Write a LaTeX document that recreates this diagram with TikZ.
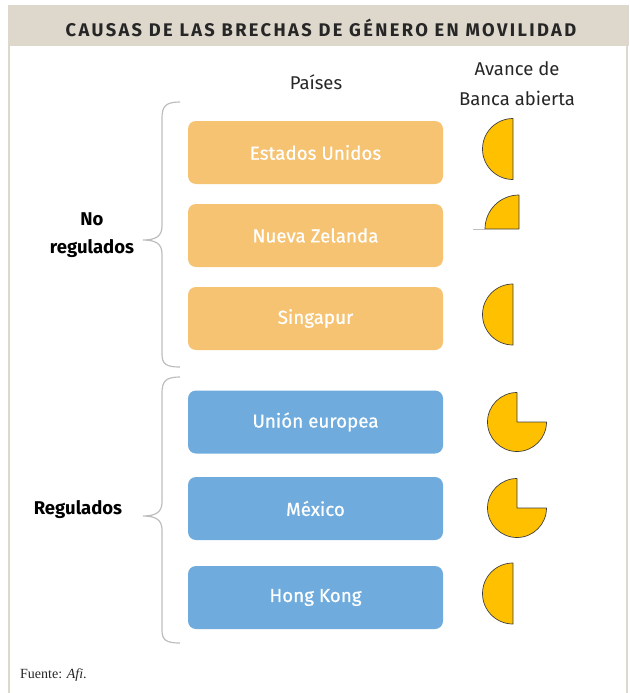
\documentclass[tikz,border=0pt]{standalone}
\usepackage{fontspec}
\setmainfont{Liberation Serif}
\newfontfamily\uisans{Fira Sans}
\newfontfamily\boxsans[FakeBold=0.6]{Fira Sans}
\newfontfamily\titlesans[LetterSpace=13]{Fira Sans}
\definecolor{beige}{HTML}{DDD8CB}
\definecolor{orangebox}{HTML}{F5C372}
\definecolor{bluebox}{HTML}{6FACDD}
\definecolor{pieyellow}{HTML}{FFC000}
\definecolor{bracegray}{HTML}{BDBDBD}
\definecolor{textdark}{HTML}{262626}
\tikzset{
  cbox/.style={rounded corners=8pt, minimum width=255pt, minimum height=63pt, inner sep=0pt,
    text=white, font=\boxsans\fontsize{18.8}{22}\selectfont},
  obox/.style={cbox, fill=orangebox},
  bbox/.style={cbox, fill=bluebox},
  pie/.style={fill=pieyellow, draw=black!75, line width=0.7pt, line join=round},
  bracepath/.style={draw=bracegray, line width=1.2pt},
  lbl/.style={font=\uisans\fontsize{18.5}{22}\selectfont, text=textdark, inner sep=0pt},
  grp/.style={font=\uisans\bfseries\fontsize{18.5}{28}\selectfont, text=black, align=center, inner sep=0pt}
}
\begin{document}
\begin{tikzpicture}[x=1pt,y=-1pt]
\useasboundingbox (0,0) rectangle (629,693);
% frame
\fill[beige] (8,5) rectangle (629,46);
\draw[beige, line width=1.5pt] (9,46) -- (9,693);
\draw[beige, line width=1.2pt] (627,46) -- (627,693);
\node[font=\titlesans\bfseries\fontsize{18.3}{20}\selectfont, text=textdark, inner sep=0pt] (title) at (321,27.5) {CAUSAS DE LAS BRECHAS DE GÉNERO EN MOVILIDAD};
% headers
\node[lbl] (paises) at (316,82) {Países};
\node[lbl] (avance) at (517,69) {Avance de};
\node[lbl] (banca) at (517,98) {Banca abierta};
% boxes
\node[obox] (us) at (315.5,152.5) {Estados Unidos};
\node[obox] (nz) at (315.5,235.5) {Nueva Zelanda};
\node[obox] (sg) at (315.5,318.5) {Singapur};
\node[bbox] (ue) at (315.5,422) {Unión europea};
\node[bbox] (mx) at (315.5,508.5) {México};
\node[bbox] (hk) at (315.5,597.5) {Hong Kong};
% group labels
\node[grp] (noreg) at (92,235) {No\\regulados};
\node[grp] (reg) at (78,510) {Regulados};
% braces
\draw[bracepath] (180,102) .. controls (166,102) and (162,106) .. (162,118) -- (162,226)
  .. controls (162,236) and (156,240) .. (143,240)
  .. controls (156,240) and (162,244) .. (162,254) -- (162,354)
  .. controls (162,364) and (166,367) .. (180,367);
\draw[bracepath] (180,377) .. controls (166,377) and (162,381) .. (162,393) -- (162,502)
  .. controls (162,512) and (156,516) .. (143,516)
  .. controls (156,516) and (162,520) .. (162,530) -- (162,630)
  .. controls (162,640) and (166,643) .. (180,643);
% pies (y axis points down: top = -90, left = -180, bottom = -270, right = -360)
\coordinate (pus) at (513,149);
\coordinate (pnz) at (519,229);
\coordinate (psg) at (513,314.5);
\coordinate (pue) at (517,422);
\coordinate (pmx) at (517,508);
\coordinate (phk) at (513,593.5);
\draw[pie] (pus) ++(0,-30.5) arc[start angle=-90, end angle=-270, radius=30.5] -- cycle;
\draw[black!25, line width=0.8pt] (473,229) -- (485,229);
\draw[pie] (pnz) ++(0,-34) arc[start angle=-90, end angle=-180, radius=34] -- (pnz) -- cycle;
\draw[pie] (psg) ++(0,-30.5) arc[start angle=-90, end angle=-270, radius=30.5] -- cycle;
\draw[pie] (pue) -- ++(0,-29.5) arc[start angle=-90, end angle=-360, radius=29.5] -- cycle;
\draw[pie] (pmx) -- ++(0,-29.5) arc[start angle=-90, end angle=-360, radius=29.5] -- cycle;
\draw[pie] (phk) ++(0,-30.5) arc[start angle=-90, end angle=-270, radius=30.5] -- cycle;
% source
\node[anchor=west, font=\fontsize{14}{16}\selectfont, text=textdark, inner sep=0pt] (src) at (20,675) {Fuente: \textit{Afi}.};
\end{tikzpicture}
\end{document}
